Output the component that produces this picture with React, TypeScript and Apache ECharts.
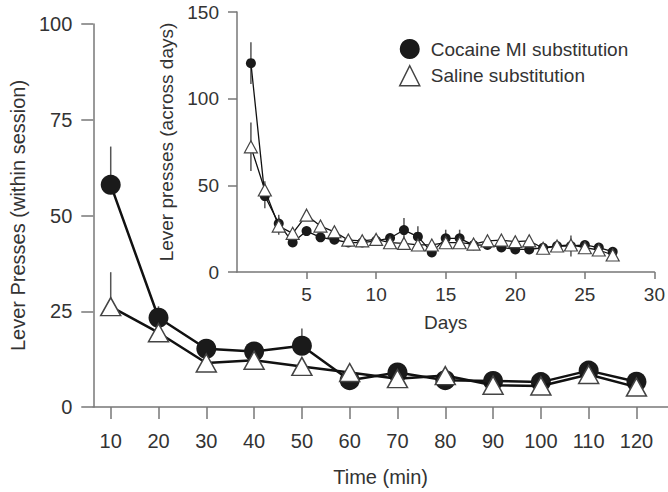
import React, { useEffect, useRef } from "react";
import * as echarts from "echarts";

const FONT = "'Liberation Sans', Arial, Helvetica, sans-serif";
const TEXT = "#333";
const AXIS = "#777";

// Main chart (within session)
const mainTimes = [10, 20, 30, 40, 50, 60, 70, 80, 90, 100, 110, 120];
const mainCocaine = [58, 23.3, 15.2, 14.5, 16, 7, 9, 7, 6.8, 6.5, 9.5, 6.6];
const mainCocaineErr = [10, 3, 1, 1, 4.5, 1, 1, 1, 1, 1, 1, 1];
const mainSaline = [26.2, 19.4, 11.5, 12.2, 10.6, 9, 7.4, 8.2, 5.7, 5.5, 8.5, 5.2];
const mainSalineErr = [9, 1, 1, 1, 1, 1, 1, 1, 1, 1, 1, 1];

// Inset chart (across days)
const insetDays = [1, 2, 3, 4, 5, 6, 7, 8, 9, 10, 11, 12, 13, 14, 15, 16, 17, 18, 19, 20, 21, 22, 23, 24, 25, 26, 27];
const insetCocaine = [120.5, 43.8, 28, 17, 23.6, 20, 18.6, 17, 17, 18, 19.6, 24.2, 20.4, 11.3, 19.4, 19.4, 15.5, 15.6, 14.2, 13, 13, 14, 15, 15, 15.6, 14.1, 11.7];
const insetCocaineErr = [12, 7, 5, 2, 2, 2, 2, 2, 2, 2, 2, 7, 6, 2, 5, 5, 2, 2, 2, 2, 2, 2, 2, 6, 2, 2, 2];
const insetSaline = [72.2, 47.3, 26.5, 22.3, 32.8, 26.5, 23.2, 18.4, 18, 18.8, 16.9, 16.5, 15.6, 15.6, 16.9, 16.9, 16.1, 18, 18.4, 17.5, 18, 13.7, 15, 15.6, 14, 12.7, 9.8];
const insetSalineErr = [14, 5, 5, 2, 2, 2, 2, 2, 2, 2, 2, 2, 2, 2, 2, 2, 2, 2, 2, 2, 2, 2, 2, 2, 2, 2, 2];

const COCAINE = "Cocaine MI substitution";
const SALINE = "Saline substitution";

const errRender = (params: any, api: any) => {
  const x = api.value(0);
  const p1 = api.coord([x, api.value(1)]);
  const p2 = api.coord([x, api.value(2)]);
  return {
    type: "line",
    shape: { x1: p1[0], y1: p1[1], x2: p2[0], y2: p2[1] },
    style: { stroke: "#555", lineWidth: 1.5 },
  };
};

function buildOption() {
  const txt = (size: number) => ({ fontSize: size, color: TEXT, fontFamily: FONT });
  const axisLine = { show: true, onZero: false, lineStyle: { color: AXIS, width: 1.5 } };
  const tickStyle = { color: AXIS, width: 1.5 };

  return {
    animation: false,
    backgroundColor: "#fff",
    grid: [
      { left: 85, top: 24, right: 0, bottom: 82 },
      { left: 237, top: 12, right: 11, bottom: 220 },
    ],
    legend: {
      orient: "vertical",
      left: 394,
      top: 34,
      itemWidth: 20,
      itemHeight: 20,
      itemGap: 6,
      selectedMode: false,
      textStyle: { ...txt(19), padding: [0, 0, 0, 6] },
      data: [
        { name: COCAINE, icon: "circle", itemStyle: { color: "#1a1a1a", borderWidth: 0 } },
        { name: SALINE, icon: "triangle", itemStyle: { color: "#fff", borderColor: "#444", borderWidth: 1.5 } },
      ],
    },
    xAxis: [
      {
        gridIndex: 0,
        type: "value",
        min: 6.35,
        max: 126.6,
        axisLine,
        axisTick: { show: true, length: 12, customValues: mainTimes, lineStyle: tickStyle },
        axisLabel: { customValues: mainTimes, margin: 24, ...txt(20) },
        splitLine: { show: false },
        name: "Time (min)",
        nameLocation: "middle",
        nameGap: 60,
        nameTextStyle: txt(20),
      },
      {
        gridIndex: 1,
        type: "value",
        min: 0,
        max: 30,
        interval: 5,
        axisLine,
        axisTick: { show: true, length: 7, lineStyle: tickStyle },
        axisLabel: { showMinLabel: false, margin: 13, ...txt(19) },
        splitLine: { show: false },
        name: "Days",
        nameLocation: "middle",
        nameGap: 41,
        nameTextStyle: txt(19),
      },
    ],
    yAxis: [
      {
        gridIndex: 0,
        type: "value",
        min: 0,
        max: 100,
        interval: 25,
        axisLine,
        axisTick: { show: true, length: 12, lineStyle: tickStyle },
        axisLabel: { margin: 21, ...txt(20) },
        splitLine: { show: false },
        name: "Lever Presses (within session)",
        nameLocation: "middle",
        nameGap: 57,
        nameTextStyle: txt(20),
      },
      {
        gridIndex: 1,
        type: "value",
        min: 0,
        max: 150,
        interval: 50,
        axisLine,
        axisTick: { show: true, length: 9, lineStyle: tickStyle },
        axisLabel: { margin: 18, ...txt(19) },
        splitLine: { show: false },
        name: "Lever presses (across days)",
        nameLocation: "middle",
        nameGap: 40,
        nameTextStyle: txt(19),
      },
    ],
    series: [
      {
        type: "custom",
        xAxisIndex: 0,
        yAxisIndex: 0,
        z: 1,
        renderItem: errRender,
        encode: { x: 0, y: [1, 2] },
        data: [
          ...mainTimes.map((t, i) => [t, mainCocaine[i], mainCocaine[i] + mainCocaineErr[i]]),
          ...mainTimes.map((t, i) => [t, mainSaline[i], mainSaline[i] + mainSalineErr[i]]),
        ],
      },
      {
        name: COCAINE,
        type: "line",
        xAxisIndex: 0,
        yAxisIndex: 0,
        z: 2,
        symbol: "circle",
        symbolSize: 20,
        itemStyle: { color: "#1a1a1a", borderWidth: 0 },
        lineStyle: { color: "#111", width: 2.5 },
        data: mainTimes.map((t, i) => [t, mainCocaine[i]]),
      },
      {
        name: SALINE,
        type: "line",
        xAxisIndex: 0,
        yAxisIndex: 0,
        z: 3,
        symbol: "triangle",
        symbolSize: [20, 18],
        itemStyle: { color: "#fff", borderColor: "#444", borderWidth: 1.5 },
        lineStyle: { color: "#111", width: 2.5 },
        data: mainTimes.map((t, i) => [t, mainSaline[i]]),
      },
      {
        type: "custom",
        xAxisIndex: 1,
        yAxisIndex: 1,
        z: 1,
        renderItem: errRender,
        encode: { x: 0, y: [1, 2] },
        data: [
          ...insetDays.map((d, i) => [d, insetCocaine[i] - insetCocaineErr[i], insetCocaine[i] + insetCocaineErr[i]]),
          ...insetDays.map((d, i) => [d, insetSaline[i] - insetSalineErr[i], insetSaline[i] + insetSalineErr[i]]),
        ],
      },
      {
        name: COCAINE,
        type: "line",
        xAxisIndex: 1,
        yAxisIndex: 1,
        z: 2,
        symbol: "circle",
        symbolSize: 10,
        itemStyle: { color: "#1a1a1a", borderWidth: 0 },
        lineStyle: { color: "#111", width: 1.3 },
        data: insetDays.map((d, i) => [d, insetCocaine[i]]),
      },
      {
        name: SALINE,
        type: "line",
        xAxisIndex: 1,
        yAxisIndex: 1,
        z: 3,
        symbol: "triangle",
        symbolSize: [13, 12],
        itemStyle: { color: "#fff", borderColor: "#444", borderWidth: 1.2 },
        lineStyle: { color: "#111", width: 1.3 },
        data: insetDays.map((d, i) => [d, insetSaline[i]]),
      },
    ],
  };
}

export default function App() {
  const ref = useRef<HTMLDivElement>(null);
  useEffect(() => {
    document.body.style.margin = "0";
    const chart = echarts.init(ref.current!, null, { renderer: "svg" });
    chart.setOption(buildOption() as any);
    return () => chart.dispose();
  }, []);
  return (
    <div
      ref={ref}
      style={{ position: "absolute", left: 0, top: 0, width: 668, height: 492, background: "#fff" }}
    />
  );
}
